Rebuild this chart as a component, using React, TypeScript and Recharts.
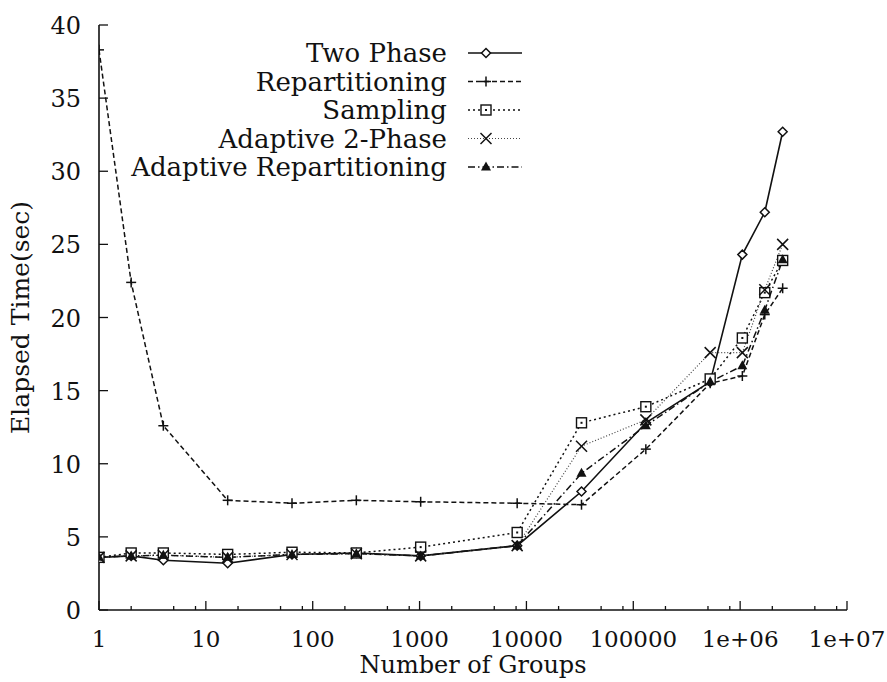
import { LineChart, Line, XAxis, YAxis, Legend } from "recharts";

// number of groups (log scale)
const groups = [1, 2, 4, 16, 64, 256, 1024, 8192, 32768, 131072, 524288, 1048576, 1700000, 2500000];

// elapsed time in seconds per algorithm
const twoPhase = [3.6, 3.7, 3.4, 3.2, 3.8, 3.9, 3.7, 4.4, 8.1, 12.8, 15.6, 24.3, 27.2, 32.7];
const repartitioning = [38.3, 22.4, 12.6, 7.5, 7.3, 7.5, 7.4, 7.3, 7.2, 11.0, 15.5, 16.0, 20.2, 22.0];
const sampling = [3.6, 3.9, 3.9, 3.8, 3.95, 3.9, 4.3, 5.3, 12.8, 13.9, 15.8, 18.6, 21.7, 23.9];
const adaptive2Phase = [3.6, 3.7, 3.75, 3.6, 3.8, 3.85, 3.7, 4.4, 11.2, 13.0, 17.6, 17.6, 21.9, 25.0];
const adaptiveRepart = [3.6, 3.7, 3.75, 3.6, 3.8, 3.85, 3.7, 4.4, 9.35, 12.6, 15.6, 16.7, 20.5, 23.95];

const xMajorTicks = [1, 10, 100, 1000, 10000, 100000, 1000000, 10000000];
const xMinorTicks = [2, 5, 8, 20, 50, 80, 200, 500, 800, 2000, 5000, 8000, 20000, 50000, 80000, 200000, 500000, 800000, 2000000, 5000000, 8000000];
const yTicks = [0, 5, 10, 15, 20, 25, 30, 35, 40];

const data = groups.map((g, i) => ({
  groups: g,
  twoPhase: twoPhase[i],
  repartitioning: repartitioning[i],
  sampling: sampling[i],
  adaptive2Phase: adaptive2Phase[i],
  adaptiveRepart: adaptiveRepart[i],
}));

const FONT = "'DejaVu Serif', serif";
const INK = "#111";

const W = 887;
const H = 682;
const PLOT_TOP = 25;
const PLOT_LEFT = 99;
const PLOT_RIGHT = 847;
const PLOT_BOTTOM = 610;

type Shape = "diamond" | "plus" | "square" | "cross" | "triangle";

function marker(shape: Shape, cx: number, cy: number, key?: string | number) {
  switch (shape) {
    case "diamond":
      return (
        <polygon key={key} points={`${cx},${cy - 4.5} ${cx + 4.5},${cy} ${cx},${cy + 4.5} ${cx - 4.5},${cy}`} fill="#fff" stroke={INK} strokeWidth={1.5} />
      );
    case "plus":
      return (
        <g key={key} stroke={INK} strokeWidth={1.5}>
          <line x1={cx - 5} y1={cy} x2={cx + 5} y2={cy} />
          <line x1={cx} y1={cy - 5} x2={cx} y2={cy + 5} />
        </g>
      );
    case "square":
      return (
        <g key={key}>
          <rect x={cx - 5} y={cy - 5} width={10} height={10} fill="#fff" stroke={INK} strokeWidth={1.4} />
          <rect x={cx - 1} y={cy - 1} width={2} height={2} fill={INK} />
        </g>
      );
    case "cross":
      return (
        <g key={key} stroke={INK} strokeWidth={1.5}>
          <line x1={cx - 5.5} y1={cy - 5.5} x2={cx + 5.5} y2={cy + 5.5} />
          <line x1={cx - 5.5} y1={cy + 5.5} x2={cx + 5.5} y2={cy - 5.5} />
        </g>
      );
    case "triangle":
      return <polygon key={key} points={`${cx},${cy - 5.5} ${cx + 5},${cy + 3.5} ${cx - 5},${cy + 3.5}`} fill={INK} />;
  }
}

const dotFor = (shape: Shape) => (props: any) => {
  const { cx, cy, index } = props;
  if (cx == null || cy == null) return <g key={index} />;
  return marker(shape, cx, cy, index);
};

const SERIES: { key: string; name: string; shape: Shape; dash?: string; width: number; color: string }[] = [
  { key: "twoPhase", name: "Two Phase", shape: "diamond", width: 1.6, color: INK },
  { key: "repartitioning", name: "Repartitioning", shape: "plus", dash: "5 3", width: 1.5, color: INK },
  { key: "sampling", name: "Sampling", shape: "square", dash: "2 3", width: 1.5, color: INK },
  { key: "adaptive2Phase", name: "Adaptive 2-Phase", shape: "cross", dash: "1 2", width: 1.2, color: "#444" },
  { key: "adaptiveRepart", name: "Adaptive Repartitioning", shape: "triangle", dash: "7 3 1.5 3", width: 1.5, color: INK },
];

const isMajor = (v: number) => xMajorTicks.includes(v);

const fmtX = (v: number) => (v >= 1000000 ? `1e+0${Math.round(Math.log10(v))}` : String(v));

function BottomTick(props: any) {
  const { x, y, payload } = props;
  const major = isMajor(payload.value);
  return (
    <g>
      <line x1={x} y1={y} x2={x} y2={y - (major ? 9 : 4)} stroke={INK} strokeWidth={1.3} />
      {major && (
        <text x={x} y={y + 37} textAnchor="middle" fontFamily={FONT} fontSize={23} fill={INK}>
          {fmtX(payload.value)}
        </text>
      )}
    </g>
  );
}

function TopTick(props: any) {
  const { x, y, payload } = props;
  const major = isMajor(payload.value);
  return <line x1={x} y1={y} x2={x} y2={y + (major ? 9 : 4)} stroke={INK} strokeWidth={1.3} />;
}

function LeftTick(props: any) {
  const { x, y, payload } = props;
  return (
    <g>
      <line x1={x} y1={y} x2={x + 9} y2={y} stroke={INK} strokeWidth={1.3} />
      <text x={x - 18} y={y + 9} textAnchor="end" fontFamily={FONT} fontSize={24} fill={INK}>
        {payload.value}
      </text>
    </g>
  );
}

function RightTick(props: any) {
  const { x, y } = props;
  return <line x1={x} y1={y} x2={x - 9} y2={y} stroke={INK} strokeWidth={1.3} />;
}

// key box: right-aligned names with a short line sample next to each
function KeyBox() {
  const rowY = [53, 81.5, 110, 138.5, 167];
  return (
    <svg width={W} height={200} style={{ display: "block" }}>
      {SERIES.map((s, i) => (
        <g key={s.key}>
          <text x={447} y={rowY[i] + 9} textAnchor="end" fontFamily={FONT} fontSize={26} fill={INK}>
            {s.name}
          </text>
          <line x1={468} y1={rowY[i]} x2={522} y2={rowY[i]} stroke={s.color} strokeWidth={s.width} strokeDasharray={s.dash} />
          {marker(s.shape, 486, rowY[i])}
        </g>
      ))}
    </svg>
  );
}

export default function App() {
  return (
    <div style={{ position: "absolute", left: 0, top: 0, width: W, height: H, background: "#fff" }}>
      <LineChart
        width={W}
        height={H}
        data={data}
        margin={{ top: PLOT_TOP, right: W - PLOT_RIGHT, left: 0, bottom: 0 }}
      >
        <XAxis
          dataKey="groups"
          type="number"
          scale="log"
          domain={[1, 10000000]}
          allowDataOverflow
          ticks={[...xMajorTicks, ...xMinorTicks]}
          interval={0}
          height={H - PLOT_BOTTOM}
          tickSize={0}
          tickMargin={0}
          tickLine={false}
          tick={<BottomTick />}
          axisLine={{ stroke: INK, strokeWidth: 1.6 }}
          label={{ value: "Number of Groups", position: "insideBottom", offset: 9, fontFamily: FONT, fontSize: 24, fill: INK }}
        />
        <XAxis
          xAxisId="top"
          orientation="top"
          dataKey="groups"
          type="number"
          scale="log"
          domain={[1, 10000000]}
          allowDataOverflow
          ticks={[...xMajorTicks, ...xMinorTicks]}
          interval={0}
          height={0}
          tickSize={0}
          tickMargin={0}
          tickLine={false}
          tick={<TopTick />}
          axisLine={{ stroke: INK, strokeWidth: 1.6 }}
        />
        <YAxis
          type="number"
          domain={[0, 40]}
          ticks={yTicks}
          interval={0}
          width={PLOT_LEFT}
          tickSize={0}
          tickMargin={0}
          tickLine={false}
          tick={<LeftTick />}
          axisLine={{ stroke: INK, strokeWidth: 1.6 }}
          label={{ value: "Elapsed Time(sec)", angle: -90, position: "insideLeft", offset: 20, style: { textAnchor: "middle" }, fontFamily: FONT, fontSize: 25, fill: INK }}
        />
        <YAxis
          yAxisId="right"
          orientation="right"
          type="number"
          domain={[0, 40]}
          ticks={yTicks}
          interval={0}
          width={0}
          tickSize={0}
          tickMargin={0}
          tickLine={false}
          tick={<RightTick />}
          axisLine={{ stroke: INK, strokeWidth: 1.6 }}
        />
        <Legend
          layout="horizontal"
          verticalAlign="middle"
          content={<KeyBox />}
          wrapperStyle={{ position: "absolute", left: 0, top: 0, width: W, height: 200, pointerEvents: "none" }}
        />
        {SERIES.map((s) => (
          <Line
            key={s.key}
            dataKey={s.key}
            name={s.name}
            type="linear"
            stroke={s.color}
            strokeWidth={s.width}
            strokeDasharray={s.dash}
            dot={dotFor(s.shape)}
            activeDot={false}
            isAnimationActive={false}
          />
        ))}
      </LineChart>
    </div>
  );
}
